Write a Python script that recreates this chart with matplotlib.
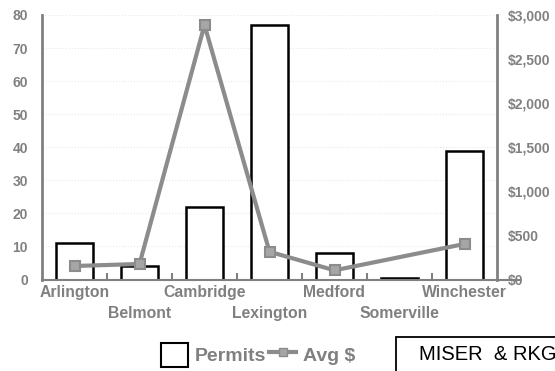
import numpy as np
import matplotlib
matplotlib.use("Agg")
import matplotlib.pyplot as plt
from matplotlib.patches import Patch, Rectangle
from matplotlib.lines import Line2D

towns   = ["Arlington", "Belmont", "Cambridge", "Lexington", "Medford", "Somerville", "Winchester"]
permits = [11, 4, 22, 77, 8, 0.4, 39]
avg_usd = [153, 176, 2886, 315, 104, np.nan, 403]

GRAY = "#808080"
LINE = "#8c8c8c"
plt.rcParams["font.family"] = ["Liberation Sans", "DejaVu Sans"]

fig = plt.figure(figsize=(5.55, 3.71), dpi=100)
ax = fig.add_axes([42/555, 1 - 279.5/371, 455/555, 264.5/371])

x = np.arange(len(towns))
ax.bar(x, permits, width=0.58, facecolor="white", edgecolor="black", linewidth=1.8, zorder=2)
ax.set_xlim(-0.5, len(towns) - 0.5)
ax.set_ylim(0, 80)
ax.set_yticks(range(0, 81, 10))
ax.yaxis.grid(True, color="#e8e8e8", ls=":", lw=0.8)
ax.set_axisbelow(True)

# x axis: ticks on category boundaries, staggered labels
ax.set_xticks(np.arange(0.5, len(towns) - 0.5, 1))
ax.set_xticklabels([])
ax.tick_params(axis="x", direction="in", length=5, width=1.5, color=GRAY)
for i, t in enumerate(towns):
    dy = -4 if i % 2 == 0 else -19
    ax.annotate(t, (i, 0), xycoords=("data", "axes fraction"), xytext=(0, dy),
                textcoords="offset points", ha="center", va="top",
                fontsize=11.3, fontweight="bold", color=GRAY)

ax.tick_params(axis="y", length=0, pad=10, labelsize=10, labelcolor=GRAY)
for lab in ax.get_yticklabels():
    lab.set_fontweight("bold")
for s in ["top", "right"]:
    ax.spines[s].set_visible(False)
ax.spines["left"].set_color(GRAY)
ax.spines["left"].set_linewidth(2)
ax.spines["bottom"].set_color(GRAY)
ax.spines["bottom"].set_linewidth(1.5)
ax.spines["bottom"].set_bounds(-0.5, 6.85)

ax2 = ax.twinx()
valid = ~np.isnan(avg_usd)
ax2.plot(x[valid], np.array(avg_usd)[valid], color=LINE, lw=3, marker="s", ms=7,
         mfc="#a6a6a6", mec=LINE, mew=1.5, zorder=3)
ax2.set_ylim(0, 3000)
ax2.set_yticks(range(0, 3001, 500))
ax2.set_yticklabels(["$0"] + [f"${v:,}" for v in range(500, 3001, 500)])
ax2.tick_params(axis="y", length=0, pad=8, labelsize=10, labelcolor=GRAY)
for lab in ax2.get_yticklabels():
    lab.set_fontweight("bold")
for s in ["top", "left", "bottom"]:
    ax2.spines[s].set_visible(False)
ax2.spines["right"].set_color(GRAY)
ax2.spines["right"].set_linewidth(2)

handles = [Patch(facecolor="white", edgecolor="black", linewidth=1.5),
           Line2D([], [], color=LINE, lw=3, marker="s", ms=6, mfc="#a6a6a6", mec=LINE)]
leg = fig.legend(handles, ["Permits", "Avg $"], loc="center", ncol=2,
                 bbox_to_anchor=(258/555, 1 - 355/371), frameon=False,
                 prop={"size": 14, "weight": "bold"}, handlelength=1.4, handleheight=1.6,
                 columnspacing=0.15, handletextpad=0.35, borderpad=0)
for t in leg.get_texts():
    t.set_color(GRAY)

fig.patches.append(Rectangle((396/555, -0.05), 0.4, 0.05 + 34/371, transform=fig.transFigure,
                             facecolor="white", edgecolor="black", linewidth=1.3))
fig.text(419/555, 1 - 354/371, "MISER  & RKG", fontsize=14.5, color="black", va="center", ha="left")

fig.savefig("out.png", dpi=100)
